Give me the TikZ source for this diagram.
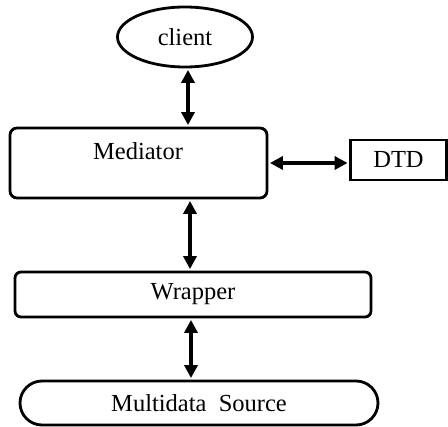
\documentclass[tikz,border=0pt]{standalone}
\usepackage{fontspec}
\setmainfont{Liberation Serif}
\usetikzlibrary{shapes.geometric,arrows.meta}
\begin{document}
\begin{tikzpicture}[x=1pt,y=-1pt,
  box/.style={draw,line width=2.8pt,inner sep=0pt},
  lbl/.style={font=\fontsize{24.5}{26}\selectfont},
  arr/.style={line width=3.6pt,{Triangle[length=13pt,width=13pt]}-{Triangle[length=13pt,width=13pt]},shorten <=1.5pt,shorten >=1.5pt}]
\useasboundingbox (0,0) rectangle (448,427);
\node[box,ellipse,minimum width=135pt,minimum height=60pt,lbl] (client) at (185,37) {client};
\node[box,rounded corners=7pt,minimum width=257pt,minimum height=70pt] (med) at (138.5,163) {};
\node[lbl] (medtext) at (138,151) {Mediator};
\node[box,minimum width=96pt,minimum height=40pt,lbl] (dtd) at (398.5,160) {DTD};
\node[box,rounded corners=6pt,minimum width=356pt,minimum height=45pt,lbl] (wrap) at (193,294.5) {Wrapper};
\node[box,rounded corners=22pt,minimum width=358pt,minimum height=44pt,lbl] (multi) at (199,403) {Multidata\ \ Source};
\draw[arr] ([xshift=3pt]client.south) -- ([xshift=3pt]client.south |- med.north);
\draw[arr] (med.east |- 0,163) -- (dtd.west |- 0,163);
\draw[arr] ([xshift=51.5pt]med.south) -- ([xshift=51.5pt]med.south |- wrap.north);
\draw[arr] ([xshift=-2pt]wrap.south) -- ([xshift=-2pt]wrap.south |- multi.north);
\end{tikzpicture}
\end{document}
